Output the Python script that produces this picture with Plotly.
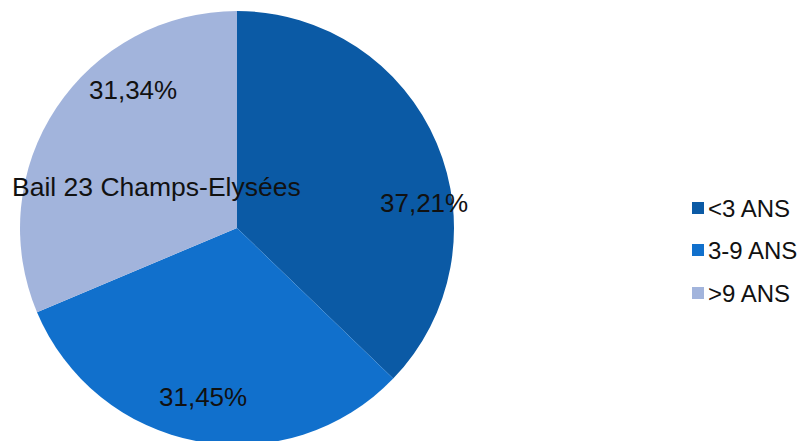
import plotly.graph_objects as go

# Lease maturity breakdown
categories = ["<3 ANS", "3-9 ANS", ">9 ANS"]
shares = [37.21, 31.45, 31.34]
colors = ["#0B5AA5", "#1170CC", "#A2B4DC"]
note_text = "Bail 23 Champs-Elysées"

W, H = 803, 450
FONT = "Liberation Sans, Arial, sans-serif"

fig = go.Figure(
    go.Pie(
        labels=categories,
        values=shares,
        sort=False,
        direction="clockwise",
        rotation=0,
        marker=dict(colors=colors, line=dict(width=0)),
        textinfo="none",
        hoverinfo="label+percent",
        showlegend=False,
        domain=dict(x=[20 / W, 454 / W], y=[0, 1]),
    )
)


def fr(v):
    return f"{v:.2f}".replace(".", ",") + "%"


# percentage labels (pixel positions converted to paper coords)
label_pos = [(424, 203), (203, 397), (133, 90)]
plot_h = H - 11 - 5
for (px, py), v in zip(label_pos, shares):
    fig.add_annotation(
        x=px / W, y=1 - (py - 11) / plot_h, xref="paper", yref="paper",
        text=fr(v), showarrow=False, xanchor="center", yanchor="middle",
        font=dict(family=FONT, size=26, color="#111111"),
    )

fig.add_annotation(
    x=10 / W, y=1 - (187 - 11) / plot_h, xref="paper", yref="paper",
    text=note_text, showarrow=False, xanchor="left", yanchor="middle",
    font=dict(family=FONT, size=26.5, color="#111111"),
)

# legend drawn as squares + labels
leg_y = [208, 250, 293]
for name, col, py in zip(categories, colors, leg_y):
    y0 = 1 - (py + 6 - 11) / plot_h
    y1 = 1 - (py - 6 - 11) / plot_h
    fig.add_shape(
        type="rect", xref="paper", yref="paper",
        x0=692 / W, x1=704 / W, y0=y0, y1=y1,
        fillcolor=col, line=dict(width=0),
    )
    fig.add_annotation(
        x=706 / W, y=1 - (py - 11) / plot_h, xref="paper", yref="paper",
        text=name, showarrow=False, xanchor="left", yanchor="middle",
        font=dict(family=FONT, size=24, color="#111111"),
    )

fig.update_layout(
    width=W, height=H,
    margin=dict(l=0, r=0, t=11, b=5),
    paper_bgcolor="white",
    plot_bgcolor="white",
)

fig.write_html(
    "out.html",
    config={"displayModeBar": False},
    post_script="document.body.style.margin='0';document.body.style.overflow='hidden';document.documentElement.style.overflow='hidden';",
)
